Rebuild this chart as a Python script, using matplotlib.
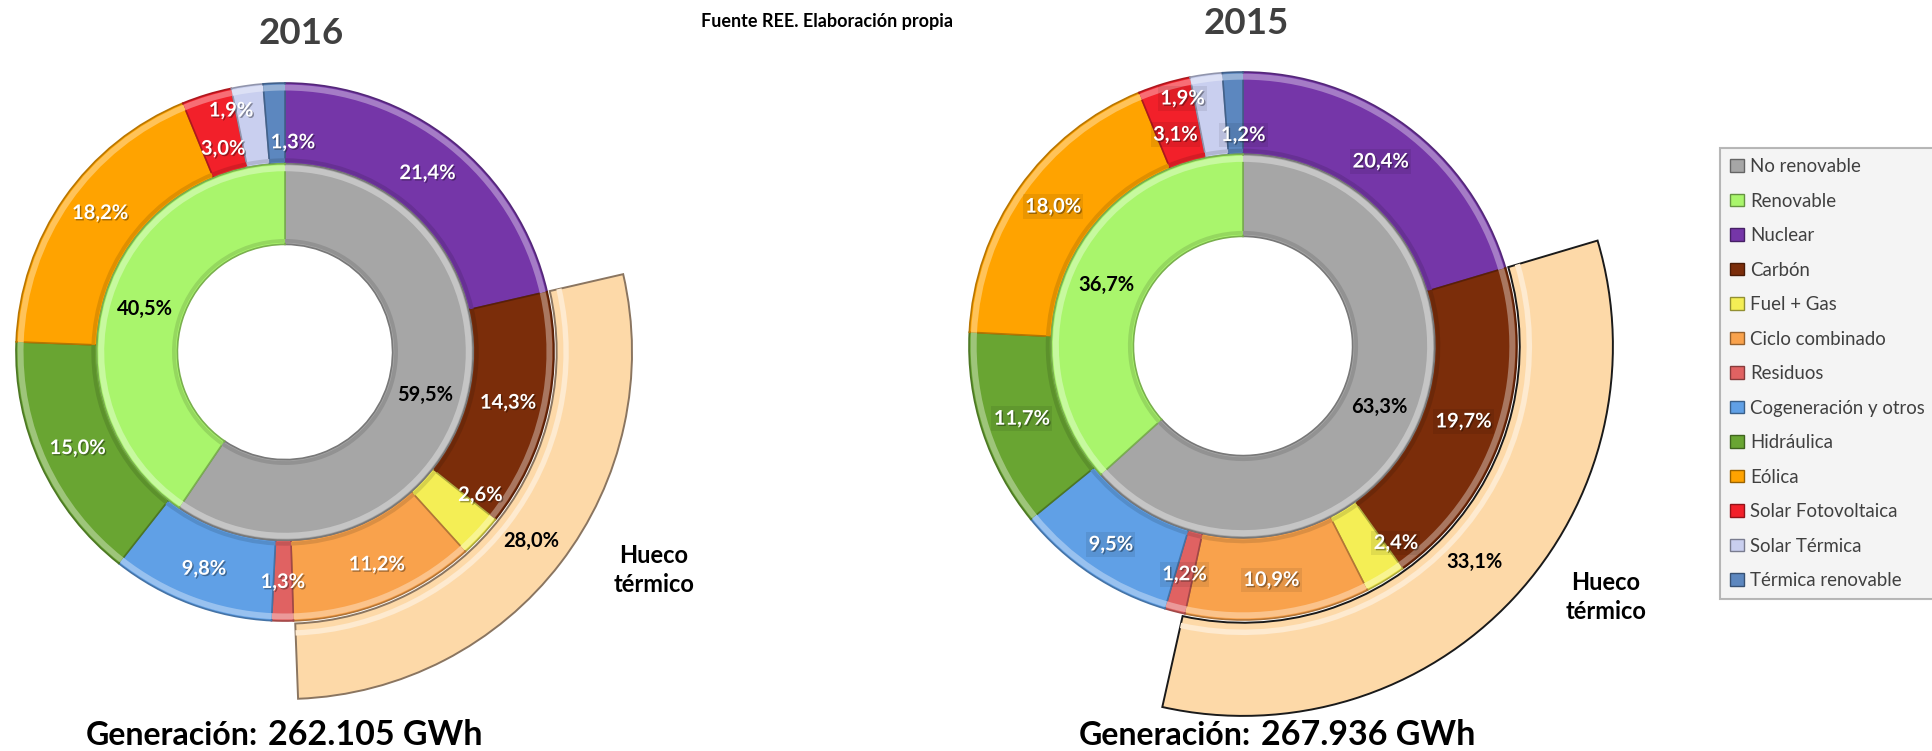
import numpy as np
import matplotlib
matplotlib.use("Agg")
import matplotlib.pyplot as plt
import matplotlib.patheffects as pe
from matplotlib.patches import Patch
from matplotlib.colors import to_rgb

plt.rcParams['font.family'] = ['Lato', 'DejaVu Sans']

# ---------------- datos ----------------
tipos = ["No renovable", "Renovable"]
fuentes = ["Nuclear", "Carbón", "Fuel + Gas", "Ciclo combinado", "Residuos",
           "Cogeneración y otros", "Hidráulica", "Eólica", "Solar Fotovoltaica",
           "Solar Térmica", "Térmica renovable"]

tipo_2016 = [59.5, 40.5]
gen_2016 = [21.4, 14.3, 2.6, 11.2, 1.3, 9.8, 15.0, 18.2, 3.0, 1.9, 1.3]
hueco_2016 = 28.0
total_2016 = "262.105 GWh"

tipo_2015 = [63.3, 36.7]
gen_2015 = [20.4, 19.7, 2.4, 10.9, 1.2, 9.5, 11.7, 18.0, 3.1, 1.9, 1.2]
hueco_2015 = 33.1
total_2015 = "267.936 GWh"

# ---------------- estilo ----------------
col_tipos = ["#A6A6A6", "#A9F56C"]
col_fuentes = ["#7536A8", "#7B2D0A", "#F4EE55", "#F9A24C", "#E06262",
               "#60A0E6", "#69A532", "#FFA300", "#F2202A", "#C9CFEF", "#5C87BF"]
col_hueco = "#FDD9A8"

W, H = 1933, 751
fig = plt.figure(figsize=(W / 100, H / 100), dpi=100)
fig.patch.set_facecolor("white")


def fx(x):
    return x / W


def fy(y):
    return 1 - y / H


def oscuro(c, f=0.72):
    r, g, b = to_rgb(c)
    return (r * f, g * f, b * f)


def claro(c, f=0.35):
    r, g, b = to_rgb(c)
    return (r + (1 - r) * f, g + (1 - g) * f, b + (1 - b) * f)


def pct(v):
    return f"{v:.1f}%".replace(".", ",")


def rotular(ax, wedges, vals, radios, desf, color, caja=False):
    for w, v, r, d in zip(wedges, vals, radios, desf):
        th = np.deg2rad((w.theta1 + w.theta2) / 2 - d)
        bbox = None
        if caja:
            bbox = dict(boxstyle="square,pad=0.12", fc=(0, 0, 0, 0.08), ec="none")
        t = ax.text(r * np.cos(th), r * np.sin(th), pct(v), ha="center", va="center",
                    fontsize=14.5, fontweight="bold", color=color, bbox=bbox, zorder=10)
        if color == "white":
            t.set_path_effects([pe.withSimplePatchShadow(offset=(1, -1), shadow_rgbFace="k", alpha=0.35)])


def anillo(ax, vals, radio, ancho, colores):
    # anillo base con un ligero relieve (brillo exterior y sombra interior)
    ws, _ = ax.pie(vals, radius=radio, startangle=90, counterclock=False, colors=colores,
                   wedgeprops=dict(width=ancho, linewidth=1.2))
    for w, c in zip(ws, colores):
        w.set_edgecolor(oscuro(c))
    ax.pie(vals, radius=radio - 0.006, startangle=90, counterclock=False,
           colors=[claro(c) for c in colores], wedgeprops=dict(width=0.022, linewidth=0))
    ax.pie(vals, radius=radio - ancho + 0.02, startangle=90, counterclock=False,
           colors=[oscuro(c, 0.88) for c in colores], wedgeprops=dict(width=0.014, linewidth=0))
    return ws


def donut(cx, cy, R, tipo, gen, hueco, r_hueco, lab_r, lab_d, borde_hueco, caja):
    L = 1.45
    S = L * R
    ax = fig.add_axes([fx(cx - S), fy(cy + S), 2 * S / W, 2 * S / H])

    # anillo del hueco térmico
    hv = [gen[0], hueco, 100 - gen[0] - hueco]
    hw, _ = ax.pie(hv, radius=r_hueco, startangle=90, counterclock=False,
                   colors=["none", col_hueco, "none"],
                   wedgeprops=dict(width=r_hueco - 1.01, linewidth=1.4))
    for i, w in enumerate(hw):
        w.set_edgecolor(borde_hueco if i == 1 else "none")
    ax.pie(hv, radius=1.01 + 0.045, startangle=90, counterclock=False,
           colors=["none", claro(col_hueco, 0.45), "none"],
           wedgeprops=dict(width=0.02, linewidth=0))

    ow = anillo(ax, gen, 1.0, 0.30, col_fuentes)
    iw = anillo(ax, tipo, 0.70, 0.30, col_tipos)

    rotular(ax, ow, gen, lab_r, lab_d, "white", caja)
    rotular(ax, iw, tipo, [0.545, 0.545], [0, 0], "black")
    rotular(ax, hw[1:2], [hueco], [1.155], [0], "black")

    ax.set_xlim(-L, L)
    ax.set_ylim(-L, L)
    ax.set_aspect("equal")
    ax.axis("off")
    return ax


donut(285, 352, 269, tipo_2016, gen_2016, hueco_2016, 1.29,
      [0.85, 0.85, 0.90, 0.86, 0.855, 0.86, 0.85, 0.86, 0.79, 0.92, 0.78],
      [0, 0, -7, -1.4, 0, 0, 0, 2, 0, -4.5, 4.5], "#8a7560", False)
donut(1243, 346, 274, tipo_2015, gen_2015, hueco_2015, 1.35,
      [0.84, 0.85, 0.91, 0.86, 0.86, 0.87, 0.85, 0.86, 0.81, 0.93, 0.77],
      [0, 0, -6.5, 0.5, 0, 0, 0, 1, -1, -6, 2.2], "#1a1a1a", True)

# ---------------- textos ----------------
fig.text(fx(301), fy(34), "2016", ha="center", va="center", fontsize=26.5,
         fontweight="bold", color="#404040")
fig.text(fx(1246), fy(24), "2015", ha="center", va="center", fontsize=26.5,
         fontweight="bold", color="#404040")
fig.text(fx(827), fy(22), "Fuente REE. Elaboración propia", ha="center", va="center",
         fontsize=13, fontweight="bold", color="black")

for xg, total in [(258, total_2016), (1251, total_2015)]:
    fig.text(fx(xg), fy(745), "Generación:", ha="right", va="baseline", fontsize=23,
             fontweight="bold", color="black")
    fig.text(fx(xg + 10), fy(745), total, ha="left", va="baseline", fontsize=24.5,
             fontweight="bold", color="black")

for xh, yh in [(654, 570), (1606, 597)]:
    fig.text(fx(xh), fy(yh), "Hueco\ntérmico", ha="center", va="center", fontsize=17,
             fontweight="bold", color="black", linespacing=1.3)

# ---------------- leyenda ----------------
handles = [Patch(facecolor=c, edgecolor=oscuro(c, 0.6)) for c in col_tipos + col_fuentes]
leg = fig.legend(handles, tipos + fuentes, loc="upper left",
                 bbox_to_anchor=(fx(1720), fy(148)), fontsize=13.4, frameon=True,
                 fancybox=False, labelspacing=0.94, handlelength=0.75, handleheight=0.65,
                 handletextpad=0.3, borderpad=0.55, borderaxespad=0)
leg.get_frame().set_facecolor("#F2F2F2")
leg.get_frame().set_edgecolor("#A6A6A6")
leg.get_frame().set_linewidth(1.5)
for t in leg.get_texts():
    t.set_color("#404040")

fig.savefig("out.png", dpi=100)
